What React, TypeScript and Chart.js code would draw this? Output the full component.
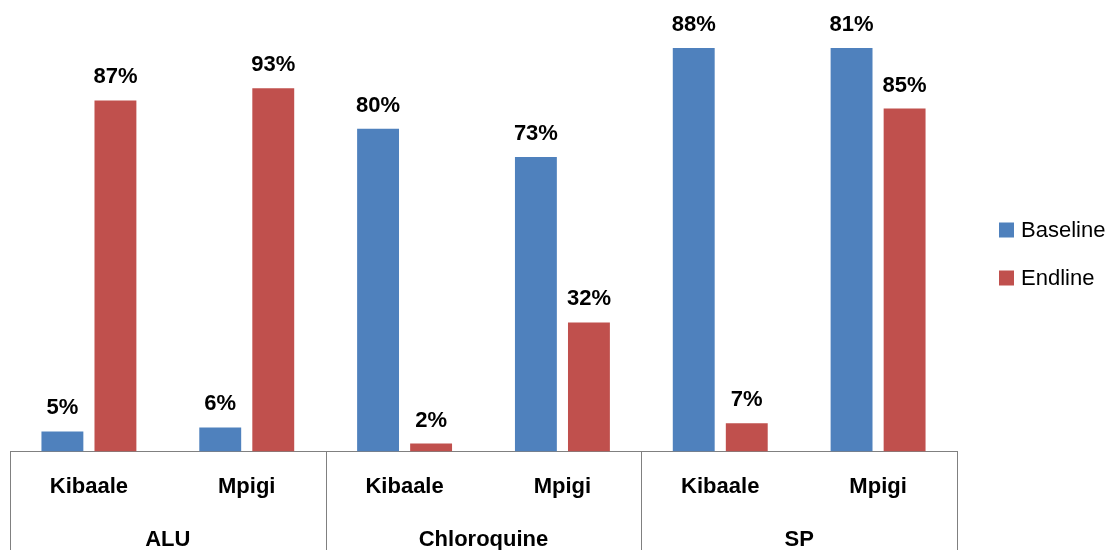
import React, { useEffect, useRef } from "react";
import { Chart, registerables } from "chart.js";

Chart.register(...registerables);

const categories = ["Kibaale", "Mpigi", "Kibaale", "Mpigi", "Kibaale", "Mpigi"];
const groups = ["ALU", "Chloroquine", "SP"];
const seriesNames = ["Baseline", "Endline"];
// bar heights as drawn in the picture (SP baseline bars run past the top of the plot)
const baselineValues = [5, 6, 80, 73, 100, 100];
const endlineValues = [87, 90, 2, 32, 7, 85];
// data label texts as printed above the bars
const baselineLabels = ["5%", "6%", "80%", "73%", "88%", "81%"];
const endlineLabels = ["87%", "93%", "2%", "32%", "7%", "85%"];
const seriesColors = ["#4F81BD", "#C0504D"];

const FONT = "'Liberation Sans', Arial, sans-serif";
const LINE = "#808080";

const overlayPlugin = {
  id: "overlay",
  afterDatasetsDraw(chart: any) {
    const ctx = chart.ctx;
    const labelSets = [baselineLabels, endlineLabels];
    ctx.save();
    ctx.font = `bold 22px ${FONT}`;
    ctx.fillStyle = "#000";
    ctx.textAlign = "center";
    ctx.textBaseline = "alphabetic";
    chart.data.datasets.forEach((_ds: any, di: number) => {
      const meta = chart.getDatasetMeta(di);
      meta.data.forEach((bar: any, i: number) => {
        ctx.fillText(labelSets[di][i], bar.x, bar.y - 17);
      });
    });
    ctx.restore();
  },
  afterDraw(chart: any) {
    const ctx = chart.ctx;
    const xs = chart.scales.x;
    const area = chart.chartArea;
    ctx.save();
    // group separators
    const bounds: number[] = [xs.left];
    for (let g = 1; g < groups.length; g++) {
      const i = g * 2;
      bounds.push((xs.getPixelForValue(i - 1) + xs.getPixelForValue(i)) / 2);
    }
    bounds.push(xs.right);
    ctx.strokeStyle = LINE;
    ctx.lineWidth = 1;
    bounds.forEach((bx) => {
      const px = Math.round(bx) + 0.5;
      ctx.beginPath();
      ctx.moveTo(px, area.bottom);
      ctx.lineTo(px, chart.height);
      ctx.stroke();
    });
    // group labels
    ctx.font = `bold 22px ${FONT}`;
    ctx.fillStyle = "#000";
    ctx.textAlign = "center";
    ctx.textBaseline = "alphabetic";
    groups.forEach((g, gi) => {
      const cx = (xs.getPixelForValue(gi * 2) + xs.getPixelForValue(gi * 2 + 1)) / 2;
      ctx.fillText(g, cx, 546);
    });
    // legend
    ctx.font = `22px ${FONT}`;
    ctx.textAlign = "left";
    ctx.textBaseline = "middle";
    chart.data.datasets.forEach((ds: any, di: number) => {
      const cy = 230 + di * 48;
      const bx = area.right + 42;
      ctx.fillStyle = ds.backgroundColor;
      ctx.fillRect(bx, cy - 7.5, 15, 15);
      ctx.fillStyle = "#000";
      ctx.fillText(ds.label, bx + 22, cy + 1);
    });
    ctx.restore();
  },
};

export default function App() {
  const canvasRef = useRef<HTMLCanvasElement | null>(null);

  useEffect(() => {
    if (!canvasRef.current) return;
    const chart = new Chart(canvasRef.current, {
      type: "bar",
      data: {
        labels: categories,
        datasets: [
          {
            label: seriesNames[0],
            data: baselineValues,
            backgroundColor: seriesColors[0],
            barPercentage: 0.79,
            categoryPercentage: 0.672,
          },
          {
            label: seriesNames[1],
            data: endlineValues,
            backgroundColor: seriesColors[1],
            barPercentage: 0.79,
            categoryPercentage: 0.672,
          },
        ],
      },
      options: {
        animation: false,
        responsive: true,
        maintainAspectRatio: false,
        layout: { padding: { left: 10, right: 155, top: 48, bottom: 28 } },
        plugins: {
          legend: { display: false },
          tooltip: { enabled: false },
        },
        scales: {
          x: {
            grid: { display: false, drawTicks: false },
            border: { display: true, color: LINE, width: 1 },
            ticks: {
              color: "#000",
              font: { family: FONT, size: 22, weight: "bold" },
              padding: 22,
              maxRotation: 0,
              autoSkip: false,
            },
          },
          y: {
            display: false,
            min: 0,
            max: 100,
          },
        },
      },
      plugins: [overlayPlugin],
    });
    return () => chart.destroy();
  }, []);

  return (
    <div
      style={{
        position: "fixed",
        left: 0,
        top: 0,
        width: 1112,
        height: 550,
        background: "#fff",
      }}
    >
      <canvas ref={canvasRef} />
    </div>
  );
}
